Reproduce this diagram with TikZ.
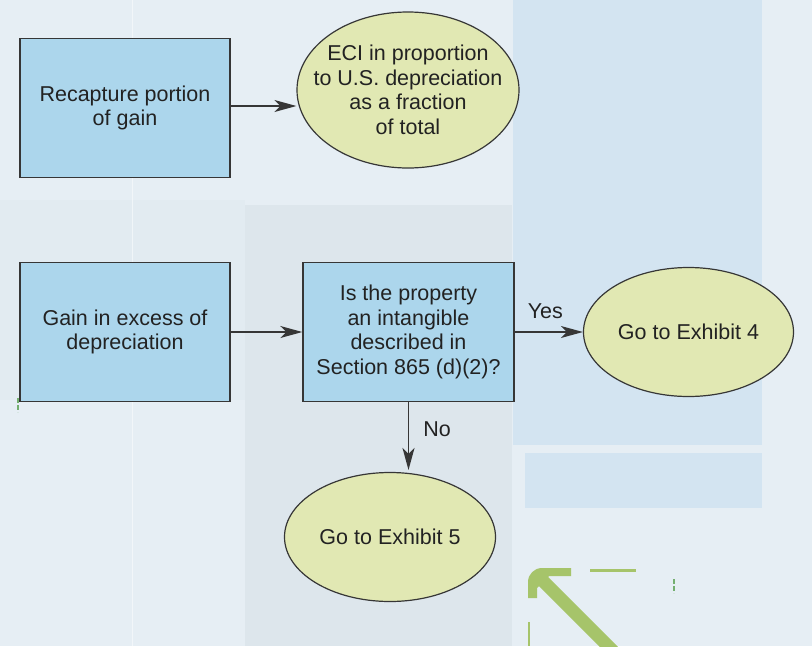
\documentclass[tikz,border=0pt]{standalone}
\usepackage{fontspec}
\setmainfont{Liberation Sans}
\usetikzlibrary{shapes.geometric,arrows.meta}

\definecolor{bgbase}{HTML}{E6EEF4}
\definecolor{bgpanel}{HTML}{D3E4F1}
\definecolor{bggray}{HTML}{DDE6EC}
\definecolor{boxfill}{HTML}{ACD6EC}
\definecolor{ovalfill}{HTML}{E1E8B3}
\definecolor{edge}{HTML}{363636}
\definecolor{ink}{HTML}{222222}
\definecolor{leaf}{HTML}{A6C46A}

\tikzset{
  stepbox/.style={rectangle, draw=edge, line width=1.4pt, fill=boxfill,
    minimum width=210pt, minimum height=139pt, inner sep=0pt,
    align=center, text=ink, font=\fontsize{21.5}{24.5}\selectfont},
  endoval/.style={ellipse, draw=edge, line width=1.2pt, fill=ovalfill,
    inner sep=0pt, align=center, text=ink,
    font=\fontsize{21.5}{24.5}\selectfont},
  flow/.style={draw=edge, line width=1.5pt,
    -{Stealth[length=22pt,width=12pt,inset=6pt]}},
  tag/.style={text=ink, font=\fontsize{21.5}{24.5}\selectfont, inner sep=0pt}
}

\begin{document}
\begin{tikzpicture}[x=1pt,y=-1pt]
  % canvas and soft background panels
  \useasboundingbox (0,0) rectangle (812,646);
  \fill[bgbase] (0,0) rectangle (812,646);
  \fill[bggray] (245,205) rectangle (512,646);
  \fill[bggray!40!bgbase] (0,200) rectangle (245,400);
  \fill[bgpanel] (513,0) rectangle (762,445);
  \fill[bgpanel] (525,453) rectangle (762,508);
  \draw[white, opacity=0.5, line width=1pt] (132,0) -- (132,646);

  % green corner mark
  \draw[leaf, line width=13pt, line cap=butt] (541,579) -- (625,663);
  \fill[leaf] (528,598) -- (528,582) arc[start angle=180, end angle=90, radius=14pt]
    -- (571,568) -- (571,576) -- (549,576) -- (537,588) -- (537,598) -- cycle;
  \draw[leaf, line width=3pt] (590,570) -- (636,570);
  \draw[leaf, line width=2pt] (529,622) -- (529,646);
  \draw[leaf!70!teal, line width=2pt, dash pattern=on 5pt off 2pt] (674,579) -- (674,593);
  \draw[leaf!70!teal, line width=2pt, dash pattern=on 5pt off 2pt] (18,398) -- (18,412);

  % flowchart nodes
  \node[stepbox] (recap) at (125,108) {Recapture portion\\of gain};
  \node[endoval, minimum width=222pt, minimum height=156pt] (eci) at (408,90)
    {\makebox[0pt]{\raisebox{-8pt}[0pt][0pt]{\begin{tabular}{@{}c@{}}ECI in proportion\\to U.S. depreciation\\as a fraction\\of total\end{tabular}}}};
  \node[stepbox] (excess) at (125,332) {Gain in excess of\\depreciation};
  \node[stepbox, minimum width=211pt] (ask) at (408.5,332)
    {Is the property\\an intangible\\described in\\Section 865 (d)(2)?};
  \node[endoval, minimum width=210pt, minimum height=129pt] (ex4) at (688.5,332)
    {Go to Exhibit 4};
  \node[endoval, minimum width=211pt, minimum height=129pt] (ex5) at (390,537)
    {Go to Exhibit 5};

  % connectors
  \draw[flow] (recap.east |- 0,106) -- (eci.west |- 0,106);
  \draw[flow] (excess) -- (ask);
  \draw[flow] (ask) -- (ex4) node[tag, pos=0.45, above=13pt] {Yes};
  \coordinate (drop) at (ask.south |- 0,470);
  \draw[flow] (ask.south) -- (drop) node[tag, pos=0.4, right=14pt] {No};
\end{tikzpicture}
\end{document}
